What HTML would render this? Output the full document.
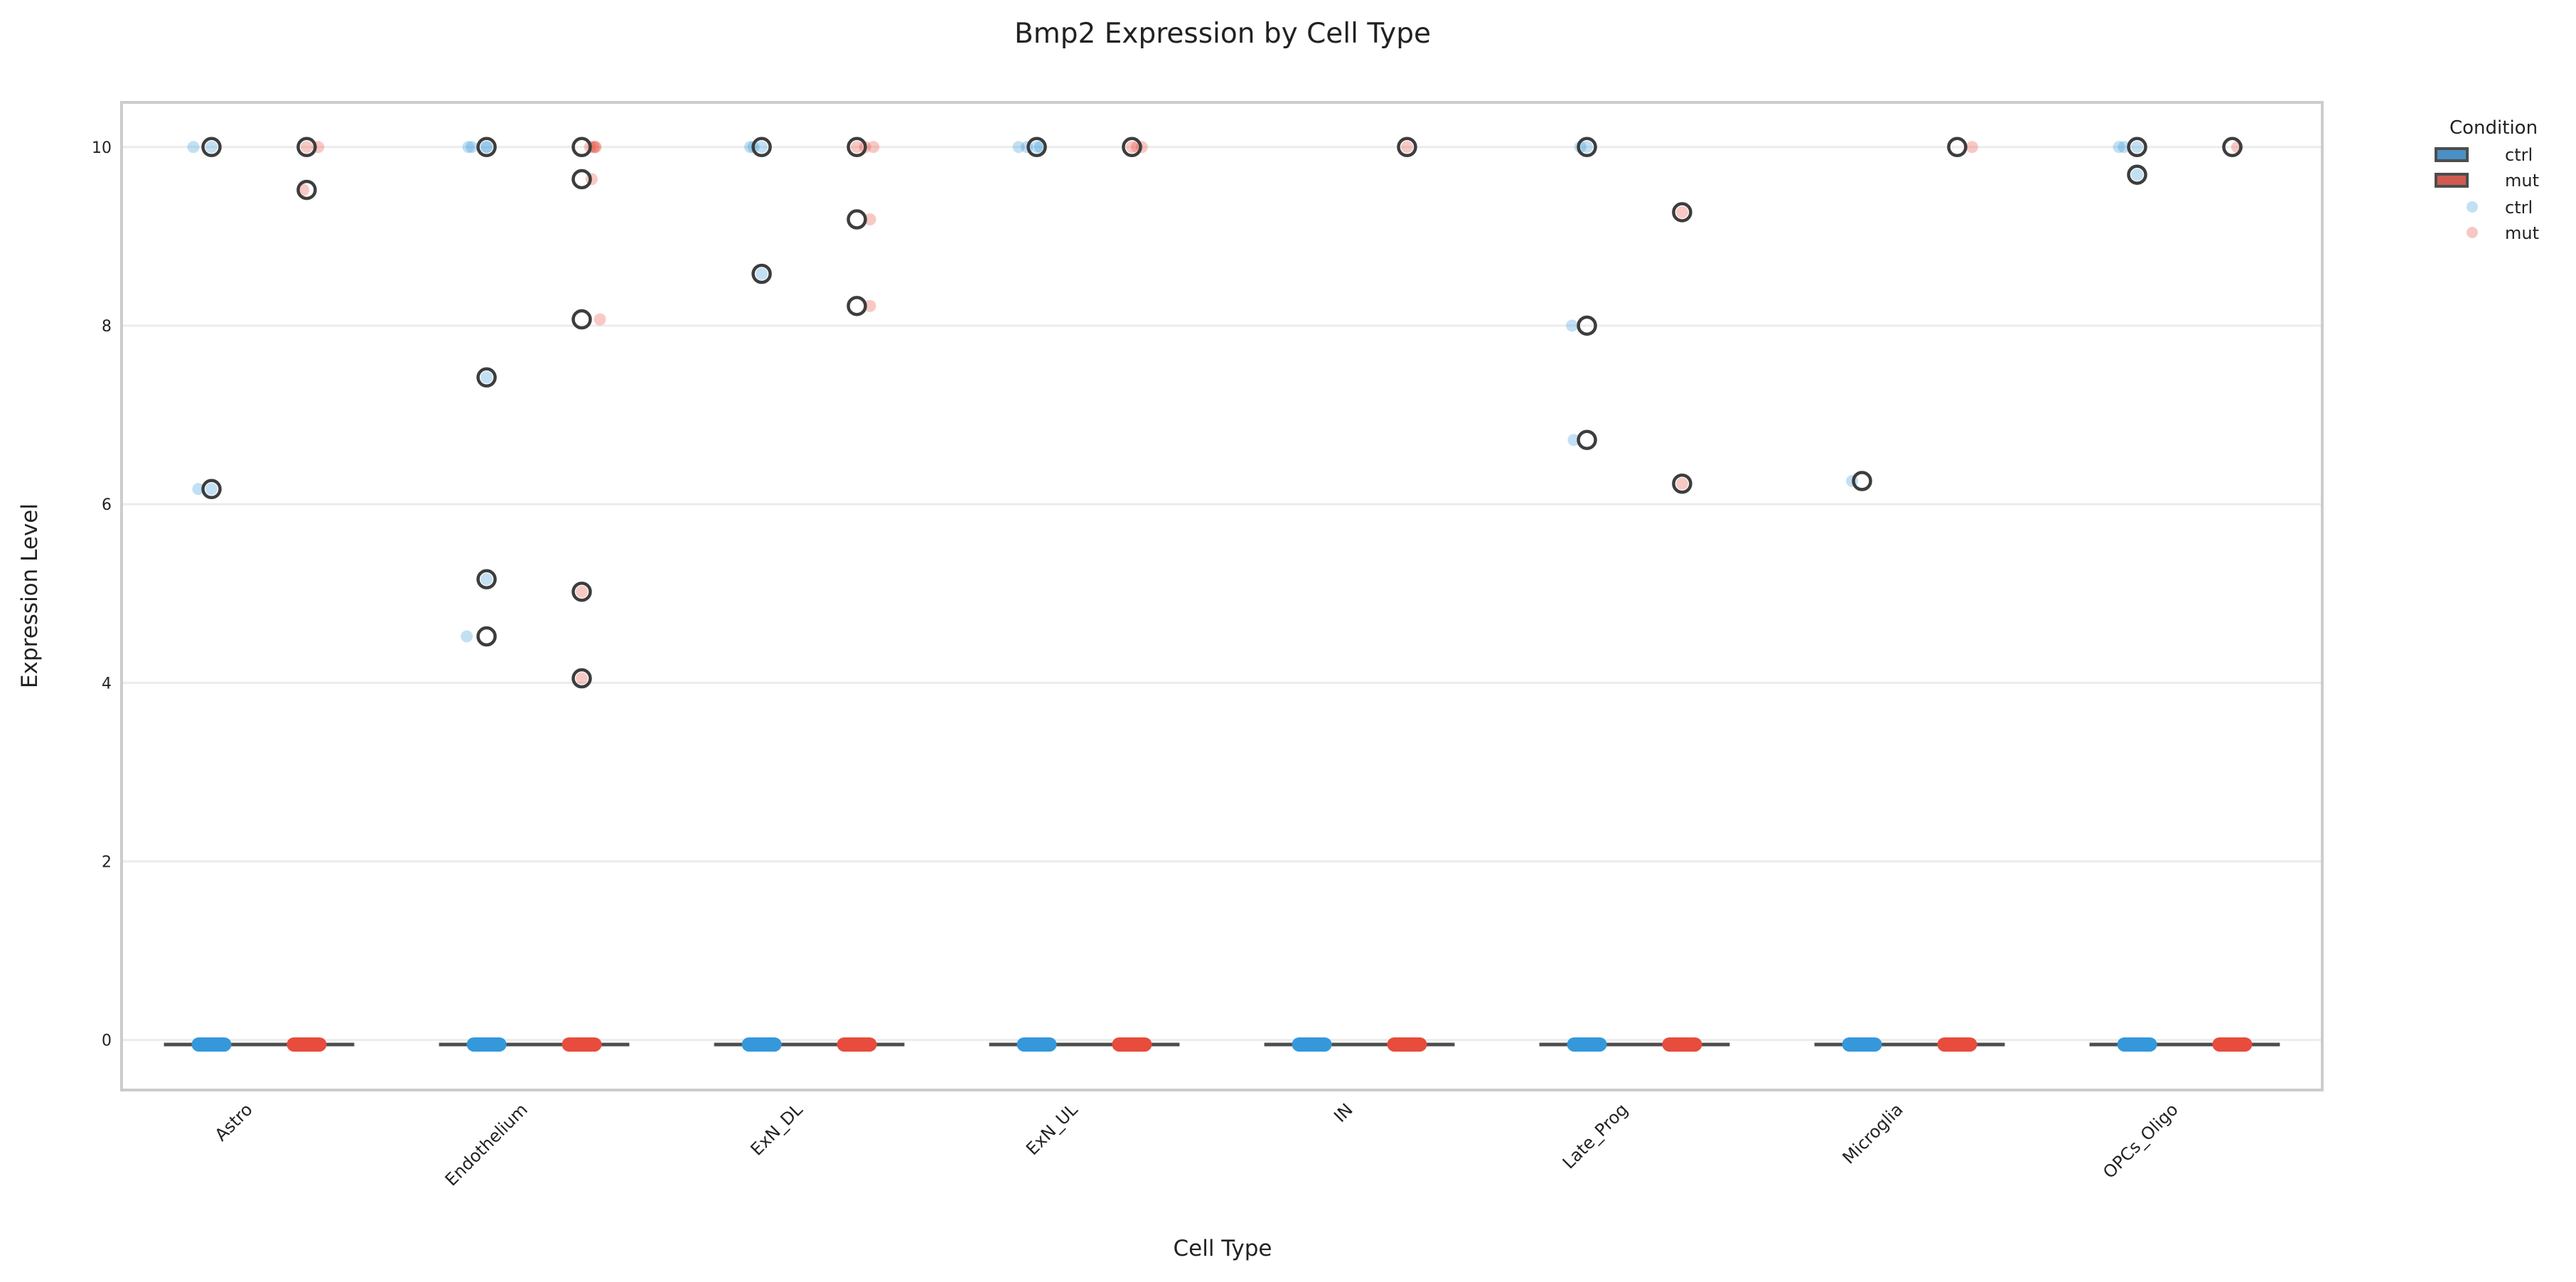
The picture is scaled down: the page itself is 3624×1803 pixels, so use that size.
<!DOCTYPE html>
<html><head><meta charset="utf-8"><style>
html,body{margin:0;padding:0;background:#fff;}
svg{display:block;font-family:"DejaVu Sans","Liberation Sans",sans-serif;}
</style></head><body>
<svg id="chart" width="3624" height="1803" viewBox="0 0 3624 1803">
<text x="1720" y="60" font-size="39" text-anchor="middle" fill="#222">Bmp2 Expression by Cell Type</text>
<g id="grid"></g>
<g id="marks"></g>
<rect x="171" y="144" width="3096" height="1389" fill="none" stroke="#cccccc" stroke-width="4"/>
<g id="axes"></g>
<text x="1720" y="1766" font-size="31" text-anchor="middle" fill="#222">Cell Type</text>
<text x="0" y="0" font-size="31" text-anchor="middle" fill="#222" transform="translate(52,838) rotate(-90)">Expression Level</text>
<g>
<text x="3446" y="188" font-size="26" fill="#222">Condition</text>
<rect x="3427" y="209" width="44" height="17" fill="#4a90c4" stroke="#4d4d4d" stroke-width="4"/>
<text x="3524" y="226" font-size="24" fill="#222">ctrl</text>
<rect x="3427" y="245" width="44" height="17" fill="#d05a4f" stroke="#4d4d4d" stroke-width="4"/>
<text x="3524" y="262" font-size="24" fill="#222">mut</text>
<circle cx="3478" cy="291" r="8" fill="#c2e0f4"/>
<text x="3524" y="300" font-size="24" fill="#222">ctrl</text>
<circle cx="3478" cy="327" r="8" fill="#f7c8c3"/>
<text x="3524" y="336" font-size="24" fill="#222">mut</text>
</g>
</svg>
<script>
const categories = ["Astro","Endothelium","ExN_DL","ExN_UL","IN","Late_Prog","Microglia","OPCs_Oligo"];
const yTicks = [0,2,4,6,8,10];
const boxMedian = -0.05;
const outlierCat = [0,0,0,0, 1,1,1,1,1,1,1,1,1, 2,2,2,2,2, 3,3, 4, 5,5,5,5,5, 6,6, 7,7,7];
const outlierCond = [0,0,1,1, 0,0,0,0,1,1,1,1,1, 0,0,1,1,1, 0,1, 1, 0,0,0,1,1, 0,1, 0,0,1];
const outlierVal = [10,6.17,10,9.52, 10,7.42,5.16,4.52,10,9.64,8.07,5.02,4.05, 10,8.58,10,9.19,8.22, 10,10, 10, 10,8.0,6.72,9.27,6.23, 6.26,10, 10,9.69,10];
const stripCat = [0,0,0,0,0,0,0, 1,1,1,1,1,1,1,1,1,1,1,1,1,1,1, 2,2,2,2,2,2,2,2,2, 3,3,3,3,3,3,3, 4, 5,5,5,5,5,5, 6,6, 7,7,7,7,7];
const stripCond = [0,0,0,0,1,1,1, 0,0,0,0,0,0,0,1,1,1,1,1,1,1,1, 0,0,0,0,1,1,1,1,1, 0,0,0,0,1,1,1, 1, 0,0,0,0,1,1, 0,1, 0,0,0,0,1];
const stripVal = [10,10,6.17,6.17,10,10,9.52, 10,10,10,7.42,5.16,4.52,10,10,10,10,9.64,8.07,5.02,4.05,10, 10,10,10,8.58,10,10,10,9.19,8.22, 10,10,10,10,10,10,10, 10, 10,10,8.0,6.72,9.27,6.23, 6.26,10, 10,10,10,9.69,10];
const stripJit = [-0.066,0,-0.048,0,0,0.042,-0.012, -0.066,-0.054,0,0,0,-0.072,0,0.03,0.042,0.048,0.036,0.066,0,0,0.05, -0.042,-0.03,0,0,0,0.03,0.06,0.048,0.048, -0.066,-0.036,0,0.012,0,0.018,0.036, 0, -0.024,0,-0.054,-0.048,0,0, -0.036,0.054, -0.066,-0.048,0,0,0.018];

const NS="http://www.w3.org/2000/svg";
const X0=171, W=3096, Y0=144, H=1389, yMin=-0.56, yMax=10.5;
const dodge=0.173, halfBox=0.346;
function xScale(i){return X0 + (i+0.5)*W/categories.length;}
function yScale(v){return Y0 + (yMax-v)/(yMax-yMin)*H;}
const unit = W/categories.length;
function mk(tag,attrs,parent){const e=document.createElementNS(NS,tag);for(const k in attrs)e.setAttribute(k,attrs[k]);parent.appendChild(e);return e;}
const grid=document.getElementById('grid'), marks=document.getElementById('marks'), axes=document.getElementById('axes');
const colors=["#3498db","#e74c3c"], light=["rgba(52,152,219,0.3)","rgba(231,76,60,0.3)"];

yTicks.forEach(t=>{
  const l=mk('line',{x1:X0,x2:X0+W,y1:yScale(t),y2:yScale(t),stroke:'#ececec','stroke-width':3},grid);
  
  
  const tx=mk('text',{x:X0-14,y:yScale(t)+8,'font-size':22,'text-anchor':'end',fill:'#222'},axes);
  tx.textContent=t;
  
  
});
categories.forEach((c,i)=>{
  const cx=xScale(i);
  const wl=mk('line',{x1:cx-halfBox*unit,x2:cx+halfBox*unit,y1:yScale(boxMedian),y2:yScale(boxMedian),stroke:'#4d4d4d','stroke-width':5},marks);
  
  
  [0,1].forEach(k=>{
    const px=cx+(k?1:-1)*dodge*unit;
    const p=mk('rect',{x:px-28,y:yScale(boxMedian)-10,width:56,height:20,rx:10,fill:colors[k]},marks);
    
    
  });
  const tl=mk('text',{x:0,y:0,'font-size':24,'text-anchor':'end',fill:'#222',transform:'translate('+(cx-8)+','+1562+') rotate(-45)'},axes);
  tl.textContent=c;
  
  
});
stripVal.forEach((v,i)=>{
  const px=xScale(stripCat[i])+(stripCond[i]?1:-1)*dodge*unit+stripJit[i]*unit;
  const d=mk('circle',{cx:px,cy:yScale(v),r:8.5,fill:light[stripCond[i]]},marks);
  
  
});
outlierVal.forEach((v,i)=>{
  const px=xScale(outlierCat[i])+(outlierCond[i]?1:-1)*dodge*unit;
  const o=mk('circle',{cx:px,cy:yScale(v),r:12,fill:'none',stroke:'#3d3d3d','stroke-width':4.5},marks);
  
  
});
</script>
</body></html>
